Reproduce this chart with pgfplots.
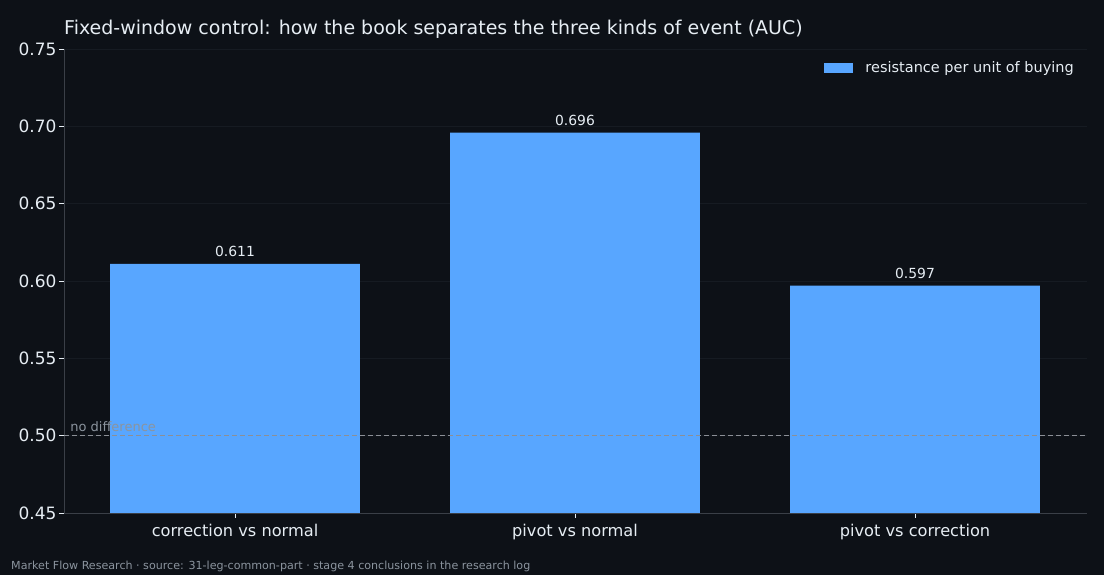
\documentclass[border=0pt]{standalone}
\usepackage{fontspec}
\setmainfont{DejaVu Sans}
\usepackage{pgfplots}
\pgfplotsset{compat=1.18}

\definecolor{bg}{HTML}{0D1117}
\definecolor{barblue}{HTML}{58A6FF}
\definecolor{txt}{HTML}{E6EDF3}
\definecolor{muted}{HTML}{8B949E}
\definecolor{spine}{HTML}{3A3F47}
\definecolor{gridc}{HTML}{161B22}
\definecolor{refline}{HTML}{8B8F96}

\begin{document}
\begin{tikzpicture}
\path[use as bounding box, fill=bg] (0,0) rectangle (1104pt,575pt);

\begin{axis}[
    at={(64pt,62pt)}, anchor=south west,
    scale only axis,
    width=1023pt, height=464pt,
    xmin=-0.503, xmax=2.506,
    ymin=0.45, ymax=0.75,
    ybar, bar width=0.735,
    axis x line*=bottom, axis y line*=left,
    axis line style={spine, line width=0.8pt, -},
    xtick={0,1,2},
    xticklabels={correction vs normal, pivot vs normal, pivot vs correction},
    ytick={0.45,0.50,...,0.75},
    /pgf/number format/assume math mode=true,
    tick align=outside,
    major tick length=5pt,
    tick style={txt, line width=0.8pt},
    yticklabel style={font=\fontsize{17}{20}\selectfont, text=txt, xshift=1pt,
        /pgf/number format/.cd, fixed, fixed zerofill, precision=2},
    xticklabel style={font=\fontsize{16.2}{19}\selectfont, text=txt, yshift=-3pt},
    ymajorgrids,
    grid style={gridc, line width=0.8pt},
    legend style={draw=none, fill=none, at={(0.9873,0.974)}, anchor=north east,
        font=\fontsize{14.5}{17}\selectfont, text=txt, inner sep=0pt,
        nodes={inner sep=0pt}},
    legend image code/.code={\fill[barblue] (0pt,-5pt) rectangle (29pt,5pt); \path (41pt,0pt);},
    nodes near coords,
    nodes near coords style={font=\fontsize{13.9}{16}\selectfont, text=txt, yshift=3.5pt,
        /pgf/number format/.cd, fixed, fixed zerofill, precision=3},
]
\addplot[fill=barblue, draw=none] coordinates {(0,0.611) (1,0.696) (2,0.597)};
\addlegendentry{resistance per unit of buying}

\addplot[sharp plot, refline, line width=1.3pt, dash pattern=on 5pt off 3pt,
    forget plot, nodes near coords={}] coordinates {(-0.503,0.5) (2.506,0.5)};
\node[anchor=south west, inner sep=0pt, text=muted, font=\fontsize{13}{15}\selectfont]
    at (axis cs:-0.485,0.5025) {no difference};
\end{axis}

\node[anchor=west, inner sep=0pt, text=txt, font=\fontsize{19}{22}\selectfont]
    at (64pt,546pt) {Fixed-window control: how the book separates the three kinds of event (AUC)};
\node[anchor=west, inner sep=0pt, text=muted, font=\fontsize{11.1}{13}\selectfont]
    at (11pt,9pt) {Market Flow Research · source: 31-leg-common-part · stage 4 conclusions in the research log};
\end{tikzpicture}
\end{document}
